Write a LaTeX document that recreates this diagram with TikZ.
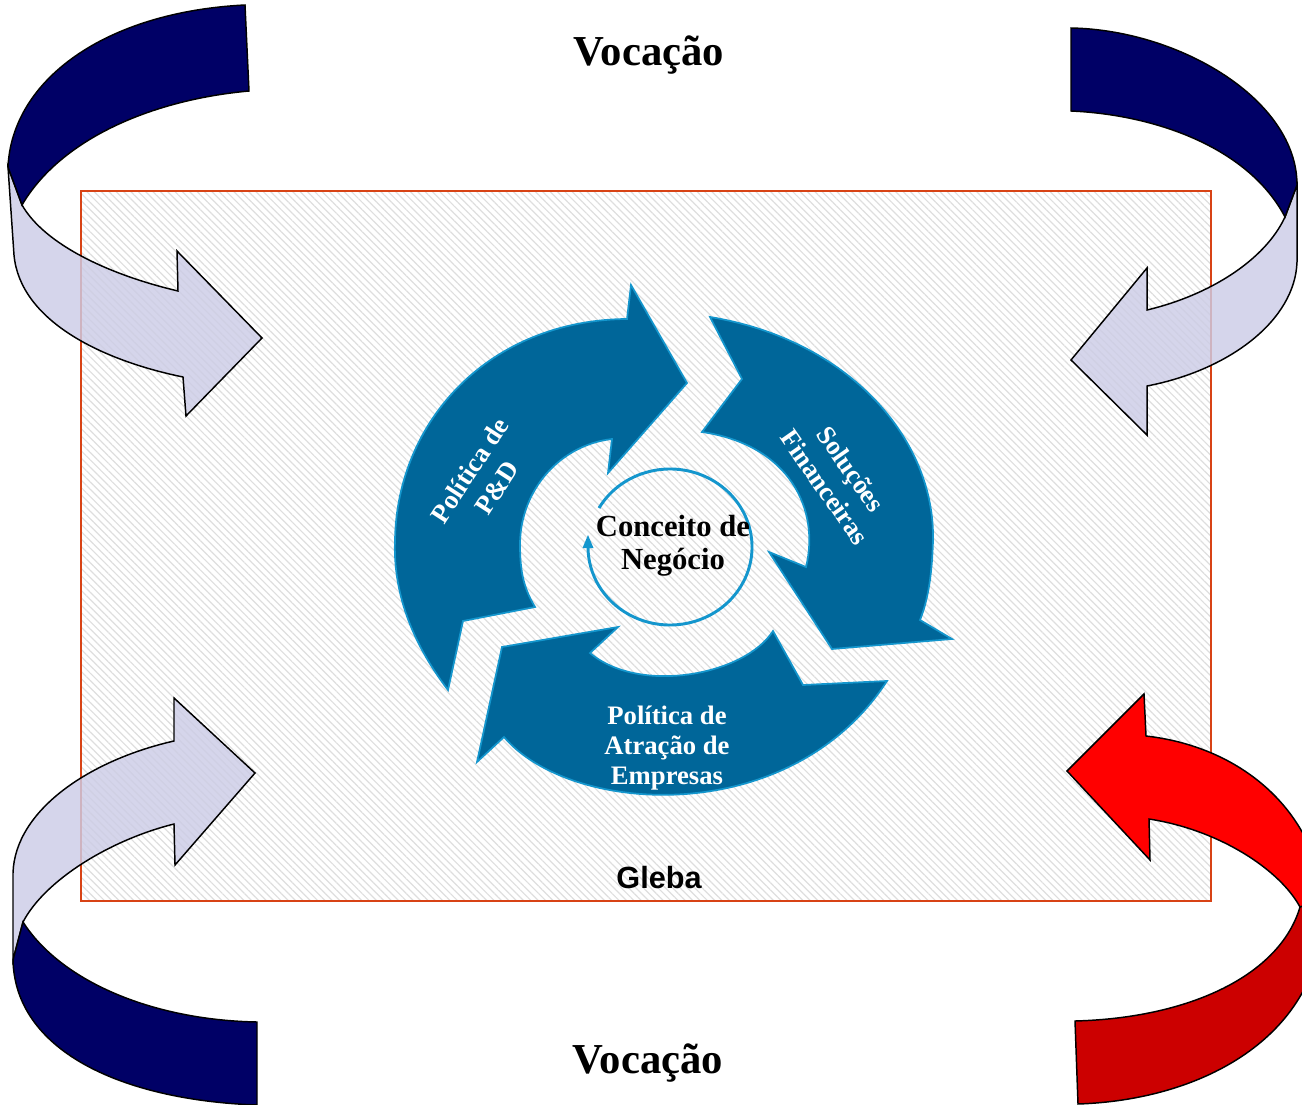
\documentclass[tikz,border=0pt]{standalone}
\usepackage{fontspec}
\setmainfont{Liberation Serif}
\newfontfamily\glebafont{Liberation Sans}
\usetikzlibrary{patterns.meta}

\begin{document}
\begin{tikzpicture}[x=0.75pt,y=0.75pt,yscale=-1,xscale=1,
  lightface/.style={draw=black, line width=1.1, fill={rgb,255:red,204;green,204;blue,230}, fill opacity=0.82},
  navyface/.style={draw=black, line width=1.1, fill={rgb,255:red,0;green,0;blue,102}},
  redface/.style={draw=black, line width=1.1, fill={rgb,255:red,255;green,0;blue,0}},
  darkredface/.style={draw=black, line width=1.1, fill={rgb,255:red,204;green,0;blue,0}},
  cyclearrow/.style={draw={rgb,255:red,20;green,150;blue,205}, line width=1.3, fill={rgb,255:red,0;green,102;blue,153}},
  ringline/.style={draw={rgb,255:red,20;green,150;blue,205}, line width=2.2},
  voclabel/.style={inner sep=0, font=\fontsize{32}{38}\selectfont\bfseries},
  celllabel/.style={inner sep=0, text=white, align=center, font=\fontsize{20}{24}\selectfont\bfseries},
  corelabel/.style={inner sep=0, align=center, font=\fontsize{23}{24.75}\selectfont\bfseries}]
%set diagram left start at 0, and has height of 1105
\clip (0,0) rectangle (1302,1105);

%Shape: Rectangle (gleba)
\draw [draw={rgb,255:red,216;green,67;blue,21}, line width=1.5, pattern={Lines[angle=-45,distance=3.9pt,line width=0.9pt]}, pattern color={rgb,255:red,222;green,222;blue,222}] (81,191) -- (1211,191) -- (1211,901) -- (81,901) -- cycle ;

%Shape: Curved Arrow top left
\draw [lightface] (8,167) -- (14,255) .. controls (20,320) and (100,360) .. (183,377) -- (186,416) -- (262,338) -- (177,251) -- (178,291) .. controls (110,275) and (45,245) .. (22,205) -- cycle ;
\draw [navyface] (245,5) -- (249,91) .. controls (150,100) and (60,140) .. (22,205) -- (8,167) .. controls (12,80) and (105,12) .. (245,5) -- cycle ;

%Shape: Curved Arrow top right
\draw [lightface] (1297,185) -- (1297,262) .. controls (1295,320) and (1230,370) .. (1147,386) -- (1147,435) -- (1071,360) -- (1147,268) -- (1147,310) .. controls (1210,295) and (1265,260) .. (1285,217) -- cycle ;
\draw [navyface] (1071,28) -- (1071,111) .. controls (1160,115) and (1250,150) .. (1285,217) -- (1297,185) .. controls (1297,100) and (1180,30) .. (1071,28) -- cycle ;

%Shape: Curved Arrow bottom left
\draw [lightface] (174,741) .. controls (90,760) and (15,810) .. (13,873) -- (13,960) -- (23,922) .. controls (45,880) and (110,840) .. (174,824) -- (175,865) -- (255,773) -- (174,698) -- cycle ;
\draw [navyface] (13,960) .. controls (15,1050) and (120,1100) .. (257,1105) -- (257,1022) .. controls (150,1020) and (60,980) .. (23,922) -- cycle ;

%Shape: Curved Arrow bottom right
\draw [redface] (1067,771) -- (1144,694) -- (1146,736) .. controls (1225,745) and (1290,790) .. (1315,860) -- (1325,900) -- (1300,907) .. controls (1280,870) and (1220,830) .. (1149,819) -- (1150,860) -- cycle ;
\draw [darkredface] (1300,907) -- (1325,900) -- (1322,930) .. controls (1310,1040) and (1200,1100) .. (1078,1104) -- (1075,1021) .. controls (1190,1018) and (1280,975) .. (1300,907) -- cycle ;

%Shape: Circular Arrow (P&D)
\draw [cyclearrow] (448,690) .. controls (410,640) and (393,590) .. (395,540) .. controls (397,420) and (490,320) .. (627,319) -- (631,285) -- (687,383) -- (608,473) -- (612,439) .. controls (560,445) and (520,490) .. (520,545) .. controls (520,575) and (525,590) .. (535,607) -- (463,621) -- cycle ;
%Shape: Circular Arrow (financeiras)
\draw [cyclearrow] (710,317) .. controls (850,340) and (935,440) .. (933,540) .. controls (932,575) and (928,600) .. (920,620) -- (952,639) -- (832,649) -- (769,552) -- (806,567) .. controls (820,510) and (790,445) .. (702,432) -- (742,379) -- cycle ;
%Shape: Circular Arrow (empresas)
\draw [cyclearrow] (887,681) .. controls (790,830) and (570,815) .. (504,737) -- (477,762) -- (502,647) -- (618,627) -- (590,653) .. controls (640,695) and (745,675) .. (773,631) -- (803,685) -- cycle ;

%Shape: Arc
\draw [ringline] (599,508) arc [start angle=-150, end angle=180, x radius=82, y radius=78] ;
\draw [shift={(588,535)}, rotate = 90] [fill={rgb,255:red,20;green,150;blue,205}] [line width=0.08] [draw opacity=0] (13,-5.5) -- (0,0) -- (13,5.5) -- cycle ;

% Text Node
\node [voclabel] (vocTop) at (649,55) {Vocação};
% Text Node
\node [voclabel] (vocBottom) at (648,1063) {Vocação};
% Text Node
\node [inner sep=0, font=\glebafont\fontsize{23}{28}\selectfont\bfseries] (gleba) at (659,878) {Gleba};
% Text Node
\node [corelabel] (conceito) at (673,546) {Conceito de\\Negócio};
% Text Node
\node [celllabel, rotate=57] (pdLabel) at (483,479) {Política de\\P\&D};
% Text Node
\node [celllabel, rotate=-55] (finLabel) at (838,478) {Soluções\\Financeiras};
% Text Node
\node [celllabel, font=\fontsize{20}{22.5}\selectfont\bfseries] (empLabel) at (667,748) {Política de\\Atração de\\Empresas};

\end{tikzpicture}
\end{document}
